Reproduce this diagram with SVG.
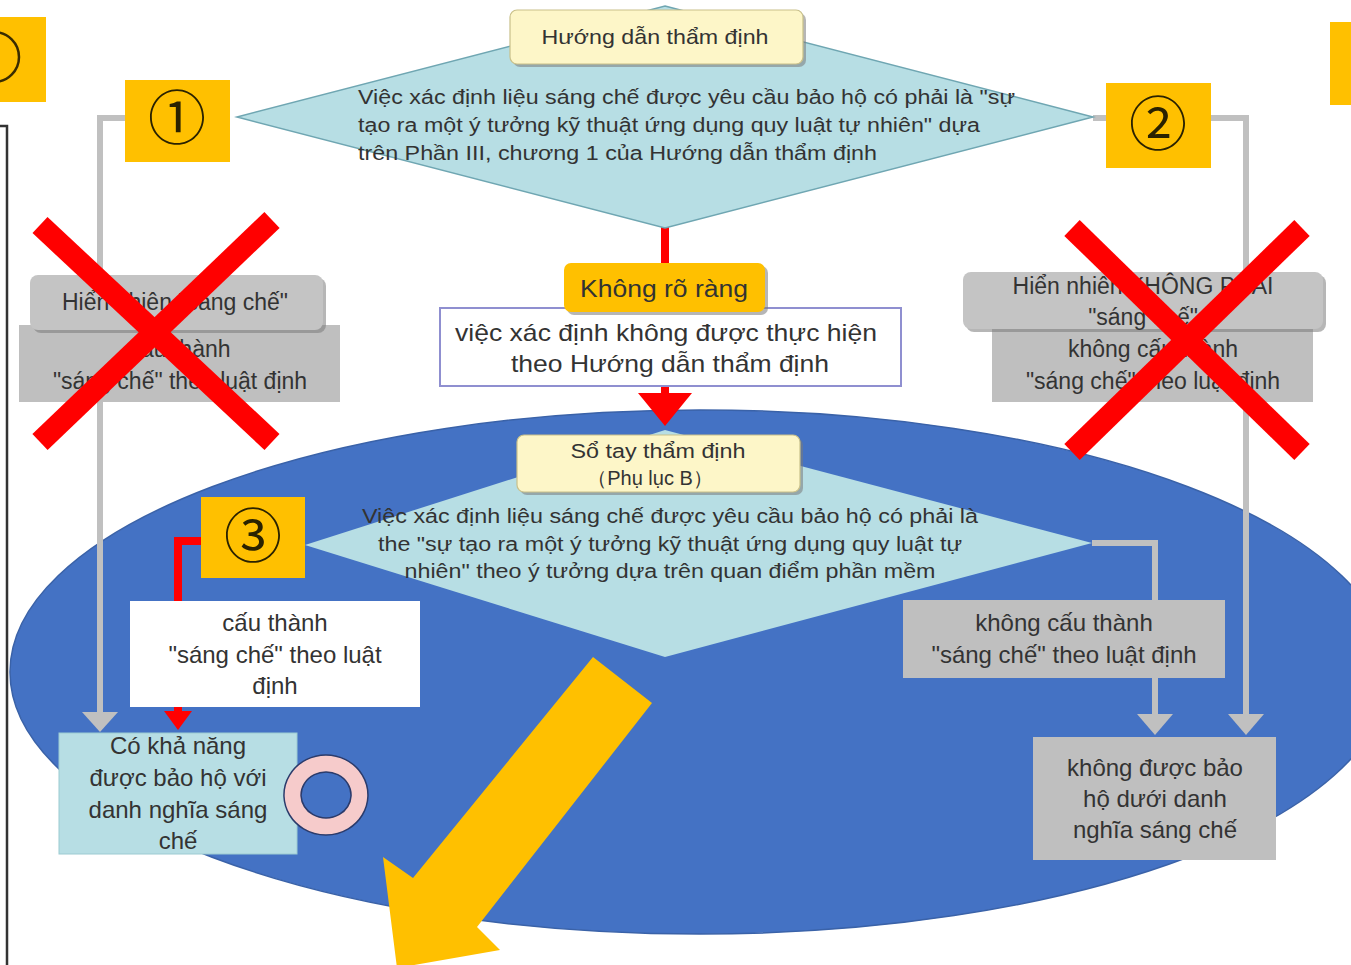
<svg xmlns="http://www.w3.org/2000/svg" width="1351" height="965" viewBox="0 0 1351 965">
  <defs>
    <style>
      .t { font-family: "Liberation Sans", Arial, sans-serif; fill: #333; text-anchor: middle; }
      .tl { font-family: "Liberation Sans", Arial, sans-serif; fill: #333; }
      .num { font-family: "Noto Sans CJK JP", "DejaVu Sans", sans-serif; fill: #2a2200; text-anchor: middle; }
      .badge { fill: #ffc000; }
      .diamond { fill: #b7dee4; stroke: #6fa6b2; stroke-width: 1.5; }
      .cream { fill: #fdf6c8; stroke: #c9c08a; stroke-width: 1.2; }
      .shadow { fill: #7a7a7a; opacity: 0.55; }
      .grey { fill: #bfbfbf; }
      .gline { fill: none; stroke: #c0c0c0; stroke-width: 6; }
      .rline { fill: none; stroke: #ff0000; stroke-width: 8; }
      .cross { stroke: #ff0000; stroke-width: 22; stroke-linecap: butt; }
    </style>
  </defs>

  <rect x="0" y="0" width="1351" height="965" fill="#ffffff"/>

  <!-- clipped neighbours at the page edges -->
  <g id="edge-left">
    <rect x="0" y="17" width="46" height="85" class="badge"/>
    <circle cx="-6" cy="57" r="25" fill="none" stroke="#3a2c00" stroke-width="2.5"/>
    <polyline points="0,126 7,126 7,965" fill="none" stroke="#333" stroke-width="2.5"/>
  </g>
  <g id="edge-right">
    <rect x="1330" y="22" width="21" height="83" class="badge"/>
  </g>

  <!-- large blue region: examination handbook -->
  <ellipse id="handbook-area" cx="700" cy="672" rx="690" ry="262" fill="#4472c4" stroke="#3a62a8" stroke-width="1.5"/>

  <!-- connectors -->
  <g id="connectors">
    <!-- ① to left outcome -->
    <polyline class="gline" points="125,118 100,118 100,714"/>
    <polygon points="82,712 118,712 100,732" fill="#c0c0c0"/>
    <!-- ② to right outcome -->
    <polyline class="gline" points="1093,118 1106,118"/>
    <polyline class="gline" points="1211,118 1246,118 1246,716"/>
    <polygon points="1228,714 1264,714 1246,735" fill="#c0c0c0"/>
    <!-- unclear branch -->
    <line class="rline" x1="665" y1="226" x2="665" y2="264" stroke-width="10"/>
    <line class="rline" x1="665" y1="386" x2="665" y2="396" stroke-width="10"/>
    <polygon points="638,393 692,393 665,426" fill="#ff0000"/>
    <!-- ③ to protectable -->
    <polyline class="rline" points="201,541 178,541 178,714"/>
    <polygon points="164,711 192,711 178,730" fill="#ff0000"/>
    <!-- handbook right tip to non-protectable -->
    <polyline class="gline" points="1092,543 1155,543 1155,600"/>
    <line class="gline" x1="1155" y1="678" x2="1155" y2="716"/>
    <polygon points="1137,714 1173,714 1155,735" fill="#c0c0c0"/>
  </g>

  <!-- top decision -->
  <g id="guideline-decision">
    <polygon class="diamond" points="665,6 1093,117 665,228 237,117"/>
    <text class="tl" x="358" y="104" font-size="20" textLength="657" lengthAdjust="spacingAndGlyphs">Việc xác định liệu sáng chế được yêu cầu bảo hộ có phải là "sự</text>
    <text class="tl" x="358" y="132" font-size="20" textLength="622" lengthAdjust="spacingAndGlyphs">tạo ra một ý tưởng kỹ thuật ứng dụng quy luật tự nhiên" dựa</text>
    <text class="tl" x="358" y="160" font-size="20" textLength="519" lengthAdjust="spacingAndGlyphs">trên Phần III, chương 1 của Hướng dẫn thẩm định</text>
  </g>
  <g id="guideline-label">
    <rect class="shadow" x="513" y="13" width="293" height="54" rx="7"/>
    <rect class="cream" x="510" y="10" width="293" height="54" rx="7"/>
    <text class="t" x="655" y="44" font-size="21" textLength="227" lengthAdjust="spacingAndGlyphs">Hướng dẫn thẩm định</text>
  </g>

  <g id="badge-1">
    <rect class="badge" x="125" y="80" width="105" height="82"/>
    <text class="num" x="177" y="139" font-size="58">①</text>
  </g>
  <g id="badge-2">
    <rect class="badge" x="1106" y="83" width="105" height="85"/>
    <text class="num" x="1158" y="145" font-size="58">②</text>
  </g>

  <!-- left rejected outcome -->
  <g id="left-obvious">
    <rect x="19" y="325" width="321" height="77" class="grey"/>
    <rect class="shadow" x="33" y="278" width="293" height="55" rx="8"/>
    <rect x="30" y="275" width="293" height="55" rx="8" fill="#c4c4c4"/>
    <text class="t" x="175" y="310" font-size="23">Hiển nhiên "sáng chế"</text>
    <text class="t" x="180" y="357" font-size="23">cấu thành</text>
    <text class="t" x="180" y="389" font-size="23">"sáng chế" theo luật định</text>
    <line class="cross" x1="40" y1="225" x2="272" y2="442"/>
    <line class="cross" x1="272" y1="220" x2="40" y2="442"/>
  </g>

  <!-- right rejected outcome -->
  <g id="right-obvious">
    <rect x="992" y="328" width="321" height="74" class="grey"/>
    <rect class="shadow" x="966" y="275" width="360" height="57" rx="8"/>
    <rect x="963" y="272" width="360" height="57" rx="8" fill="#c4c4c4"/>
    <text class="t" x="1143" y="294" font-size="23">Hiển nhiên KHÔNG PHẢI</text>
    <text class="t" x="1143" y="325" font-size="23">"sáng chế"</text>
    <text class="t" x="1153" y="357" font-size="23">không cấu thành</text>
    <text class="t" x="1153" y="389" font-size="23">"sáng chế" theo luật định</text>
    <line class="cross" x1="1072" y1="228" x2="1302" y2="452"/>
    <line class="cross" x1="1302" y1="228" x2="1072" y2="452"/>
  </g>

  <!-- unclear case -->
  <g id="unclear">
    <rect x="440" y="308" width="461" height="78" fill="#ffffff" stroke="#8f8fd0" stroke-width="2"/>
    <text class="t" x="666" y="341" font-size="24" textLength="422" lengthAdjust="spacingAndGlyphs">việc xác định không được thực hiện</text>
    <text class="t" x="670" y="372" font-size="24" textLength="318" lengthAdjust="spacingAndGlyphs">theo Hướng dẫn thẩm định</text>
  </g>
  <g id="unclear-label">
    <rect class="shadow" x="567" y="266" width="201" height="49" rx="7"/>
    <rect x="564" y="263" width="201" height="49" rx="7" fill="#ffc000"/>
    <text class="t" x="664" y="297" font-size="23" textLength="168" lengthAdjust="spacingAndGlyphs">Không rõ ràng</text>
  </g>

  <!-- handbook decision -->
  <g id="handbook-decision">
    <polygon points="665,430 1092,543 665,657 305,545" fill="#b7dee4"/>
    <text class="t" x="670" y="523" font-size="20" textLength="616" lengthAdjust="spacingAndGlyphs">Việc xác định liệu sáng chế được yêu cầu bảo hộ có phải là</text>
    <text class="t" x="670" y="551" font-size="20" textLength="584" lengthAdjust="spacingAndGlyphs">the "sự tạo ra một ý tưởng kỹ thuật ứng dụng quy luật tự</text>
    <text class="t" x="670" y="578" font-size="20" textLength="531" lengthAdjust="spacingAndGlyphs">nhiên" theo ý tưởng dựa trên quan điểm phần mềm</text>
  </g>
  <g id="handbook-label">
    <rect class="shadow" x="520" y="438" width="283" height="57" rx="7"/>
    <rect class="cream" x="517" y="435" width="283" height="57" rx="7"/>
    <text class="t" x="658" y="458" font-size="20" textLength="175" lengthAdjust="spacingAndGlyphs">Sổ tay thẩm định</text>
    <text class="t" x="650" y="485" font-size="20">（Phụ lục B）</text>
  </g>

  <g id="badge-3">
    <rect class="badge" x="201" y="497" width="104" height="81"/>
    <text class="num" x="253" y="557" font-size="58">③</text>
  </g>

  <g id="constitutes">
    <rect x="130" y="601" width="290" height="106" fill="#ffffff"/>
    <text class="t" x="275" y="631" font-size="24">cấu thành</text>
    <text class="t" x="275" y="663" font-size="24">"sáng chế" theo luật</text>
    <text class="t" x="275" y="694" font-size="24">định</text>
  </g>

  <g id="not-constitutes">
    <rect x="903" y="600" width="322" height="78" class="grey"/>
    <text class="t" x="1064" y="631" font-size="24">không cấu thành</text>
    <text class="t" x="1064" y="663" font-size="24">"sáng chế" theo luật định</text>
  </g>

  <g id="protectable">
    <rect x="59" y="733" width="238" height="121" fill="#b7dee4" stroke="#9ccbd2" stroke-width="1"/>
    <text class="t" x="178" y="754" font-size="24">Có khả năng</text>
    <text class="t" x="178" y="786" font-size="24">được bảo hộ với</text>
    <text class="t" x="178" y="818" font-size="24">danh nghĩa sáng</text>
    <text class="t" x="178" y="849" font-size="24">chế</text>
  </g>

  <g id="ok-mark">
    <path d="M326,755 A42,40 0 1 1 325.9,755 Z M326,772 A25,23 0 1 0 326.1,772 Z" fill="#f6cbcb" fill-rule="evenodd" stroke="#2b3b6b" stroke-width="1.5"/>
  </g>

  <g id="not-protectable">
    <rect x="1033" y="737" width="243" height="123" class="grey"/>
    <text class="t" x="1155" y="776" font-size="24">không được bảo</text>
    <text class="t" x="1155" y="807" font-size="24">hộ dưới danh</text>
    <text class="t" x="1155" y="838" font-size="24">nghĩa sáng chế</text>
  </g>

  <!-- big arrow pointing onward -->
  <g id="next-arrow">
    <polygon points="593,657 652,703 477,927 500,950 397,968 383,857 413,878" fill="#ffc000"/>
  </g>
</svg>
